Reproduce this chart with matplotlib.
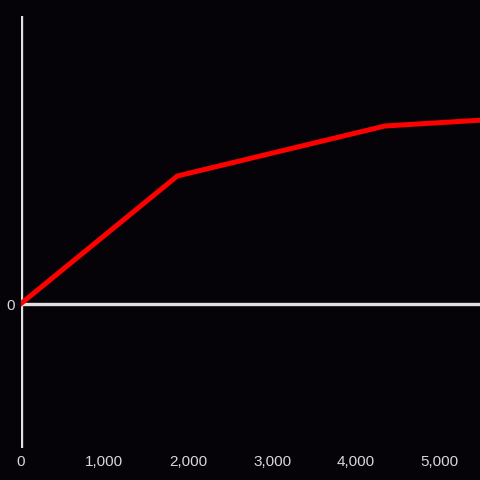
import matplotlib
matplotlib.use('Agg')
import matplotlib.pyplot as plt

# data
xs = [0, 1870, 4345, 5520]
ys = [0, 1.28, 1.78, 1.84]
xticks = [0, 1000, 2000, 3000, 4000, 5000]
xlabels = ['0', '1,000', '2,000', '3,000', '4,000', '5,000']

bg = '#050307'
fg = '#e0e0e0'

plt.rcParams['font.family'] = ['Liberation Sans', 'DejaVu Sans']

fig = plt.figure(figsize=(4.8, 4.8), dpi=100, facecolor=bg)
ax = fig.add_axes([20.5/480, 32/480, 459.5/480, 432/480], facecolor=bg)

ax.axvline(0, color=fg, lw=2.4, zorder=1)
ax.axhline(0, color=fg, lw=2.4, zorder=1)
ax.plot(xs, ys, color='#ff0000', lw=3.6, solid_joinstyle='miter', zorder=3)

ax.set_xlim(0, 5480)
ax.set_ylim(-1.44, 2.88)
for s in ax.spines.values():
    s.set_visible(False)

ax.set_xticks(xticks)
ax.set_xticklabels(xlabels)
ax.set_yticks([0])
ax.set_yticklabels(['0'])
ax.tick_params(axis='both', length=0, colors='#d8d8d8', labelsize=11)
ax.tick_params(axis='x', pad=5)
ax.tick_params(axis='y', pad=4)

fig.savefig('out.png', dpi=100, facecolor=bg)
